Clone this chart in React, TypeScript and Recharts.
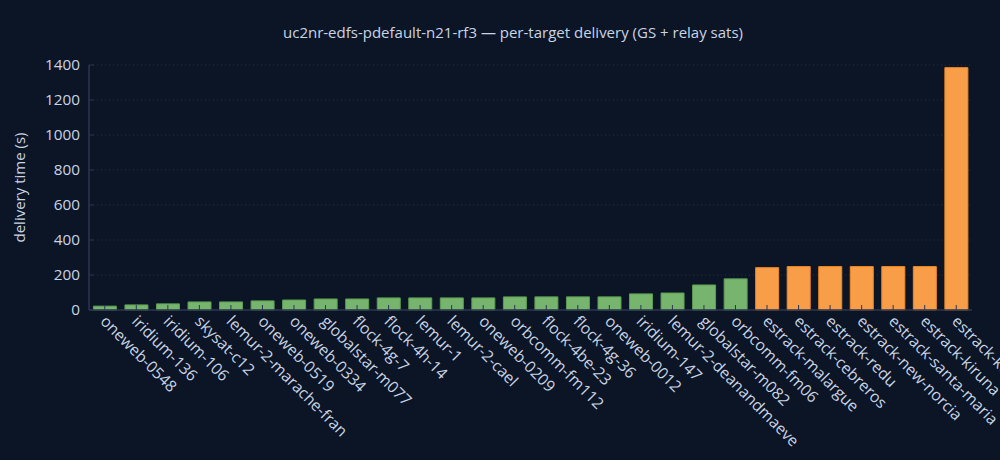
import React from "react";
import {
  BarChart,
  Bar,
  XAxis,
  YAxis,
  CartesianGrid,
  Cell,
  Label,
} from "recharts";

const targets = [
  "oneweb-0548",
  "iridium-136",
  "iridium-106",
  "skysat-c12",
  "lemur-2-marache-fran",
  "oneweb-0519",
  "oneweb-0334",
  "globalstar-m077",
  "flock-4g-7",
  "flock-4h-14",
  "lemur-1",
  "lemur-2-cael",
  "oneweb-0209",
  "orbcomm-fm112",
  "flock-4be-23",
  "flock-4g-36",
  "oneweb-0012",
  "iridium-147",
  "lemur-2-deanandmaeve",
  "globalstar-m082",
  "orbcomm-fm06",
  "estrack-malargue",
  "estrack-cebreros",
  "estrack-redu",
  "estrack-new-norcia",
  "estrack-santa-maria",
  "estrack-kiruna",
  "estrack-kourou",
];

const deliveryTimes = [
  22, 29, 35, 46, 46, 52, 57, 63, 63, 69, 69, 69, 69, 75, 75, 75, 75, 92, 97,
  143, 178, 242, 248, 248, 248, 248, 248, 1385,
];

const kinds = [
  "sat", "sat", "sat", "sat", "sat", "sat", "sat", "sat", "sat", "sat",
  "sat", "sat", "sat", "sat", "sat", "sat", "sat", "sat", "sat", "sat",
  "sat", "gs", "gs", "gs", "gs", "gs", "gs", "gs",
];

const yTicks = [0, 200, 400, 600, 800, 1000, 1200, 1400];

const TITLE = "uc2nr-edfs-pdefault-n21-rf3 \u2014 per-target delivery (GS + relay sats)";
const Y_LABEL = "delivery time (s)";

const BG = "#0b1526";
const TEXT = "#c9d4e4";
const AXIS = "#2b3650";
const GRID = "#25314a";
const FONT = "'Open Sans', 'Noto Sans', sans-serif";

const fills: Record<string, string> = { sat: "#77b56f", gs: "#f89d48" };
const strokes: Record<string, string> = { sat: "#5c9f50", gs: "#f28a22" };

const data = targets.map((name, i) => ({
  name,
  value: deliveryTimes[i],
  kind: kinds[i],
}));

const XTick = (props: any) => {
  const { x, y, payload } = props;
  return (
    <g transform={`translate(${x},${y}) rotate(45)`}>
      <text
        x={5}
        y={12.5}
        textAnchor="start"
        fill={TEXT}
        fontSize={15.8}
        fontFamily={FONT}
      >
        {payload.value}
      </text>
    </g>
  );
};

const NoTick = () => <g />;

const YLabel = (props: any) => {
  const vb = props.viewBox || {};
  const cx = 19;
  const cy = vb.y + vb.height / 2;
  return (
    <text
      x={cx}
      y={cy}
      transform={`rotate(-90, ${cx}, ${cy})`}
      textAnchor="middle"
      dominantBaseline="central"
      fill={TEXT}
      fontSize={15}
      fontFamily={FONT}
    >
      {Y_LABEL}
    </text>
  );
};

export default function App() {
  return (
    <div
      style={{
        position: "fixed",
        left: 0,
        top: 0,
        width: 1000,
        height: 460,
        background: BG,
        overflow: "hidden",
      }}
    >
      <div
        style={{
          position: "absolute",
          left: 513,
          top: 22,
          transform: "translateX(-50%)",
          whiteSpace: "nowrap",
          color: TEXT,
          fontFamily: FONT,
          fontSize: 15,
          lineHeight: "20px",
        }}
      >
        {TITLE}
      </div>
      <BarChart
        width={1000}
        height={460}
        data={data}
        margin={{ top: 65, right: 28, bottom: 0, left: 19 }}
        barCategoryGap="14%"
      >
        <CartesianGrid
          vertical={false}
          stroke={GRID}
          strokeDasharray="1 3"
          yAxisId="left"
          xAxisId="bottom"
        />
        <XAxis
          xAxisId="bottom"
          dataKey="name"
          orientation="bottom"
          height={150}
          interval={0}
          tickSize={-5}
          tickMargin={5}
          tick={<XTick />}
          axisLine={{ stroke: AXIS, strokeWidth: 1.5 }}
          tickLine={{ stroke: AXIS }}
        />
        <XAxis
          xAxisId="top"
          dataKey="name"
          orientation="top"
          height={0}
          interval={0}
          tickSize={-5}
          tick={<NoTick />}
          axisLine={{ stroke: AXIS, strokeWidth: 1.5 }}
          tickLine={{ stroke: AXIS }}
        />
        <YAxis
          yAxisId="left"
          orientation="left"
          width={70}
          domain={[0, 1400]}
          ticks={yTicks}
          interval={0}
          tickSize={-5}
          tickMargin={14}
          tick={{ fill: TEXT, fontSize: 15.3, fontFamily: FONT }}
          axisLine={{ stroke: AXIS, strokeWidth: 1.5 }}
          tickLine={{ stroke: AXIS }}
        >
          <Label content={<YLabel />} />
        </YAxis>
        <YAxis
          yAxisId="right"
          orientation="right"
          width={0}
          domain={[0, 1400]}
          ticks={yTicks}
          interval={0}
          tickSize={-5}
          tick={<NoTick />}
          axisLine={{ stroke: AXIS, strokeWidth: 1.5 }}
          tickLine={{ stroke: AXIS }}
        />
        <Bar
          dataKey="value"
          xAxisId="bottom"
          yAxisId="left"
          isAnimationActive={false}
          strokeWidth={1}
        >
          {data.map((d, i) => (
            <Cell key={i} fill={fills[d.kind]} stroke={strokes[d.kind]} />
          ))}
        </Bar>
      </BarChart>
    </div>
  );
}
